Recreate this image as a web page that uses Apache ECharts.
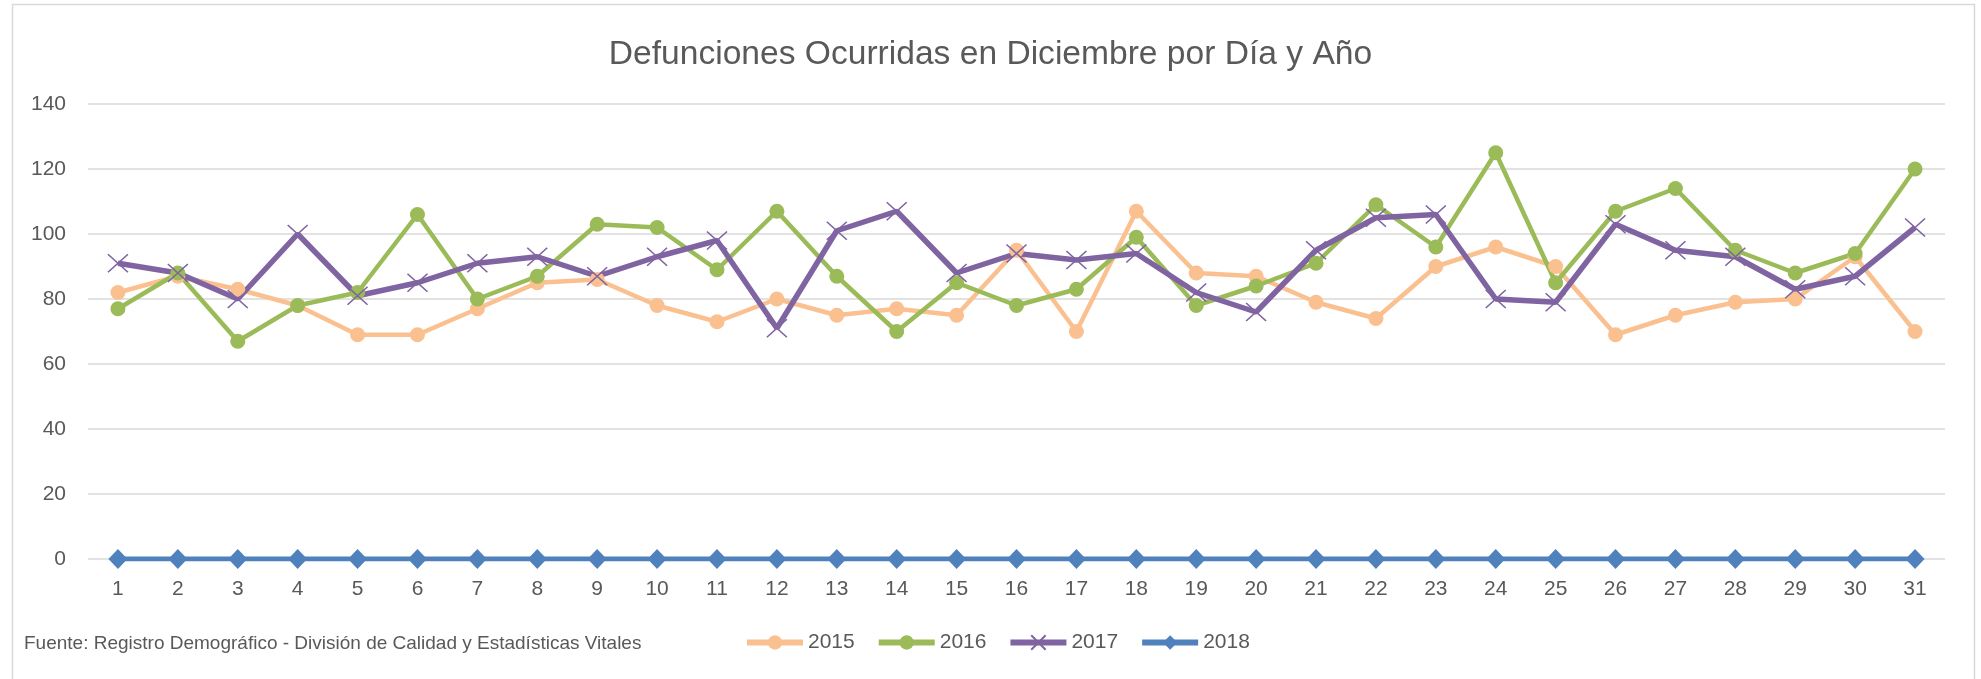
<!DOCTYPE html>
<html>
<head>
<meta charset="utf-8">
<script src="https://cdn.jsdelivr.net/npm/echarts@6/dist/echarts.min.js"></script>
<style>html,body{margin:0;padding:0;background:#fff;}#c{width:1981px;height:679px;}</style>
</head>
<body>
<div id="c"></div>
<script>
const days = ['1','2','3','4','5','6','7','8','9','10','11','12','13','14','15','16','17','18','19','20','21','22','23','24','25','26','27','28','29','30','31'];
const y2015 = [82,87,83,78,69,69,77,85,86,78,73,80,75,77,75,95,70,107,88,87,79,74,90,96,90,69,75,79,80,93,70];
const y2016 = [77,88,67,78,82,106,80,87,103,102,89,107,87,70,85,78,83,99,78,84,91,109,96,125,85,107,114,95,88,94,120];
const y2017 = [91,88,80,100,81,85,91,93,87,93,98,71,101,107,88,94,92,94,82,76,95,105,106,80,79,103,95,93,83,87,102];
const y2018 = [0,0,0,0,0,0,0,0,0,0,0,0,0,0,0,0,0,0,0,0,0,0,0,0,0,0,0,0,0,0,0];
const yTicks = [0,20,40,60,80,100,120,140];

const FONT = '"Liberation Sans", Arial, sans-serif';
const TXT = '#595959';
const chart = echarts.init(document.getElementById('c'), null, {renderer:'canvas'});
const xPath = 'path://M0,0L10,9M10,0L0,9';
chart.setOption({
  animation: false,
  backgroundColor: '#fff',
  textStyle: {fontFamily: FONT},
  title: {
    text: 'Defunciones Ocurridas en Diciembre por Día y Año',
    left: 'center', top: 33,
    textStyle: {fontFamily: FONT, fontSize: 33.6, fontWeight: 'normal', color: TXT}
  },
  graphic: [
    {type:'rect', shape:{x:12.5, y:4.5, width:1962, height:720}, style:{fill:'none', stroke:'#d9d9d9', lineWidth:1.5}, silent:true},
    {type:'text', left: 24, top: 634, style:{text:'Fuente: Registro Demográfico - División de Calidad y Estadísticas Vitales', font:'19px "Liberation Sans", Arial, sans-serif', fill: TXT}}
  ],
  legend: {
    left: 744, top: 632, padding: 0,
    itemWidth: 56, itemHeight: 18, itemGap: 21,
    lineStyle: {width: 6},
    textStyle: {fontFamily: FONT, fontSize: 21, color: TXT},
    data: ['2015','2016','2017','2018']
  },
  grid: {left: 88, right: 36, top: 104, bottom: 120, containLabel: false},
  xAxis: {
    type: 'category', data: days, boundaryGap: true,
    axisLine: {show: false}, axisTick: {show: false},
    axisLabel: {fontFamily: FONT, fontSize: 21, color: TXT, margin: 20, interval: 0}
  },
  yAxis: {
    type: 'value', min: yTicks[0], max: yTicks[yTicks.length-1], interval: 20,
    axisLine: {show: false}, axisTick: {show: false},
    axisLabel: {fontFamily: FONT, fontSize: 21, color: TXT, margin: 22},
    splitLine: {lineStyle: {color: '#d9d9d9', width: 1.5}}
  },
  series: [
    {name:'2015', type:'line', data:y2015, symbol:'circle', symbolSize:15,
      lineStyle:{color:'#FAC090', width:4.5}, itemStyle:{color:'#FAC090'}},
    {name:'2016', type:'line', data:y2016, symbol:'circle', symbolSize:15,
      lineStyle:{color:'#9BBB59', width:4.5}, itemStyle:{color:'#9BBB59'}},
    {name:'2017', type:'line', data:y2017, symbol:xPath, symbolSize:[20,18],
      lineStyle:{color:'#8064A2', width:5.5}, itemStyle:{color:'#8064A2', borderColor:'#8064A2', borderWidth:1.5}},
    {name:'2018', type:'line', data:y2018, symbol:'diamond', symbolSize:[19,20],
      lineStyle:{color:'#4F81BD', width:5}, itemStyle:{color:'#4F81BD'}}
  ]
});
</script>
</body>
</html>
